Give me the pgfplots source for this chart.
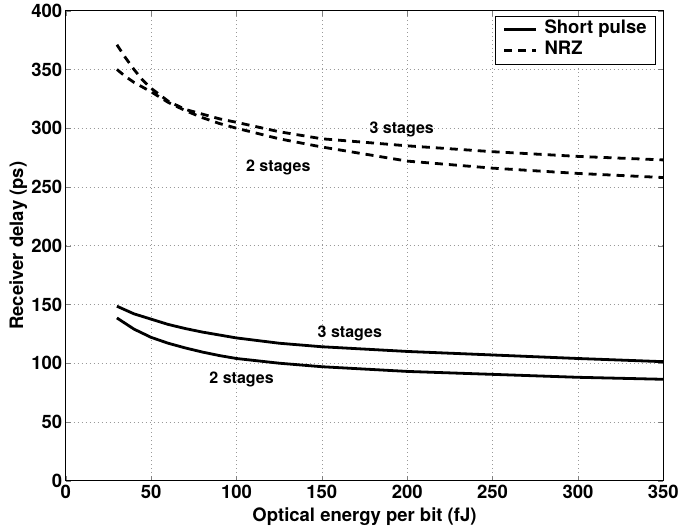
\documentclass[border=0pt]{standalone}
\usepackage{pgfplots}
\pgfplotsset{compat=1.18}
\usepackage{fontspec}
\setmainfont{TeX Gyre Heros}

\newcommand{\lblfont}{\fontsize{18.5}{21}\selectfont\bfseries}
\newcommand{\annfont}{\fontsize{16}{19}\selectfont\bfseries}

\begin{document}
\begin{tikzpicture}[font=\lblfont]
\useasboundingbox (-65.7pt,-48.3pt) rectangle (630.3pt,480.7pt);
\begin{axis}[
  at={(0,0)}, anchor=south west,
  scale only axis,
  width=597.6pt,
  height=470pt,
  xmin=0, xmax=350,
  ymin=0, ymax=400,
  xtick={0,50,...,350},
  ytick={0,50,...,400},
  tick align=inside,
  tick pos=both,
  major tick length=5pt,
  grid=major,
  grid style={gray!80, line width=0.5pt, dash pattern=on 1pt off 3pt},
  axis line style={line width=0.6pt},
  /pgf/number format/assume math mode=true,
  ticklabel style={font=\lblfont},
  xticklabel style={yshift=-1pt},
  xlabel={Optical energy per bit (fJ)},
  ylabel={Receiver delay (ps)},
  xlabel style={at={(axis description cs:0.5,-0.0766)}, anchor=center},
  ylabel style={at={(axis description cs:-0.0793,0.5)}, anchor=center},
  legend cell align=left,
  legend style={at={(0.9878,0.9894)}, anchor=north east, draw=black,
    line width=0.6pt, font=\lblfont, row sep=0pt,
    inner xsep=7pt, inner ysep=3pt,
    nodes={inner sep=2pt, text height=13pt, text depth=4pt},
    /tikz/every odd column/.append style={column sep=5pt}},
  legend image code/.code={\draw[#1] (0pt,0pt) -- (32pt,0pt);},
]
% short pulse, 3 stages
\addplot[black, line width=2.8pt] coordinates {
  (30,148.5) (40,142) (50,137.5) (60,133) (70,129.5) (80,126.5) (90,124)
  (100,121.5) (125,117) (150,114) (175,112) (200,110) (250,107)
  (300,104) (350,101.3)};
\addlegendentry{Short pulse}
% NRZ, 3 stages
\addplot[black, line width=2.8pt, dash pattern=on 8pt off 6pt] coordinates {
  (30,371) (35,360) (40,350) (45,341) (50,334) (60,323) (70,316)
  (80,312) (90,308) (100,305) (125,297) (150,291) (175,288) (200,285)
  (250,280) (300,276) (350,273)};
\addlegendentry{NRZ}
% short pulse, 2 stages
\addplot[black, line width=2.8pt, forget plot] coordinates {
  (30,138.5) (40,129) (50,122) (60,117) (70,113) (80,109.5) (90,106.5)
  (100,104) (125,100) (150,97) (175,95) (200,93) (250,90.5)
  (300,88) (350,86.3)};
% NRZ, 2 stages
\addplot[black, line width=2.8pt, dash pattern=on 8pt off 6pt, forget plot] coordinates {
  (30,350) (35,344) (40,339) (45,335) (50,331) (60,322) (70,315)
  (80,309) (90,304) (100,300) (125,291) (150,284) (175,278) (200,272)
  (250,266) (300,261.5) (350,258)};

\node[font=\annfont] at (axis cs:196.8,299) {3 stages};
\node[font=\annfont] at (axis cs:124.5,266.4) {2 stages};
\node[font=\annfont] at (axis cs:166.4,125.4) {3 stages};
\node[font=\annfont] at (axis cs:103,86.3) {2 stages};
\end{axis}
\end{tikzpicture}
\end{document}
